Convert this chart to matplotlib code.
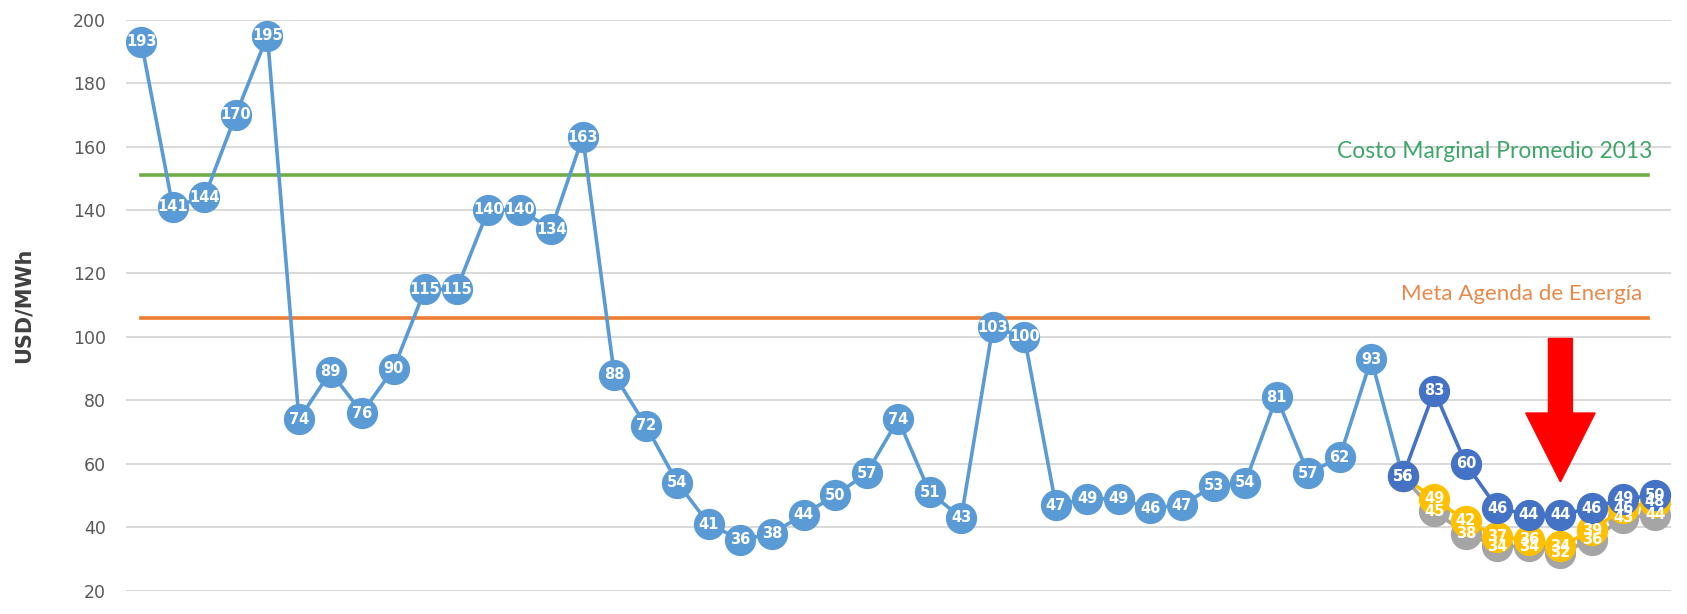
import numpy as np
import matplotlib.pyplot as plt

# monthly marginal cost values (USD/MWh)
historico = [193, 141, 144, 170, 195, 74, 89, 76, 90, 115, 115, 140, 140, 134, 163,
             88, 72, 54, 41, 36, 38, 44, 50, 57, 74, 51, 43, 103, 100, 47, 49, 49,
             46, 47, 53, 54, 81, 57, 62, 93, 56]
proy_base = [56, 83, 60, 46, 44, 44, 46, 49, 50]
proy_amarillo = [56, 49, 42, 37, 36, 34, 39, 46, 48]
proy_gris = [56, 45, 38, 34, 34, 32, 36, 43, 44]
costo_marginal_2013 = 151
meta_agenda = 106

c_hist = '#5B9BD5'
c_base = '#4472C4'
c_yel = '#FFC000'
c_gray = '#A5A5A5'

fig = plt.figure(figsize=(16.87, 6.14), dpi=100)
ax = fig.add_axes([0.0744, 0.038, 0.916, 0.930])

n_hist = len(historico)
x_hist = np.arange(n_hist)
x_proy = np.arange(n_hist - 1, n_hist - 1 + len(proy_base))

ax.axhline(costo_marginal_2013, xmin=0.01, xmax=0.985, color='#70AD47', lw=2.6, zorder=2)
ax.axhline(meta_agenda, xmin=0.01, xmax=0.985, color='#ED7D31', lw=2.6, zorder=2)


def serie(x, y, color, z, lz, skip_first=False):
    ax.plot(x, y, color=color, lw=2.6, marker='o', markersize=21.5,
            markeredgecolor=color, zorder=z)
    # excel draws every data label above all markers
    for i, (xi, yi) in enumerate(zip(x, y)):
        if skip_first and i == 0:
            continue
        ax.text(xi, yi, str(yi), color='white', fontsize=10.5, fontweight='bold',
                ha='center', va='center', zorder=lz, family='DejaVu Sans')


serie(x_hist, historico, c_hist, 3, 10)
serie(x_proy, proy_gris, c_gray, 4, 10.1, skip_first=True)
serie(x_proy, proy_amarillo, c_yel, 5, 10.2, skip_first=True)
serie(x_proy, proy_base, c_base, 6, 10.3)

ax.text(47.9, 158.5, 'Costo Marginal Promedio 2013', color='#3FA66A', fontsize=16.5,
        ha='right', va='center', family='Lato')
ax.text(47.6, 113.5, 'Meta Agenda de Energía', color='#E8894A', fontsize=16,
        ha='right', va='center', family='Lato')

# red arrow
ax.arrow(45, 99.5, 0, -23.5, width=0.76, head_width=2.2, head_length=21.7,
         length_includes_head=False, color='#FF0000', zorder=8)

ax.set_xlim(-0.5, len(historico) + len(proy_base) - 1.5)
ax.set_ylim(20, 200)
ax.set_yticks(np.arange(20, 201, 20))
ax.set_xticks([])
ax.grid(axis='y', color='#D9D9D9', lw=1.4, zorder=0)
ax.set_axisbelow(True)
for s in ax.spines.values():
    s.set_visible(False)
ax.tick_params(axis='y', length=0, labelsize=12.5, labelcolor='#595959', pad=14)
ax.set_ylabel('USD/MWh', fontsize=15, fontweight='bold', color='#404040', labelpad=28)

fig.savefig('out.png', dpi=100)
